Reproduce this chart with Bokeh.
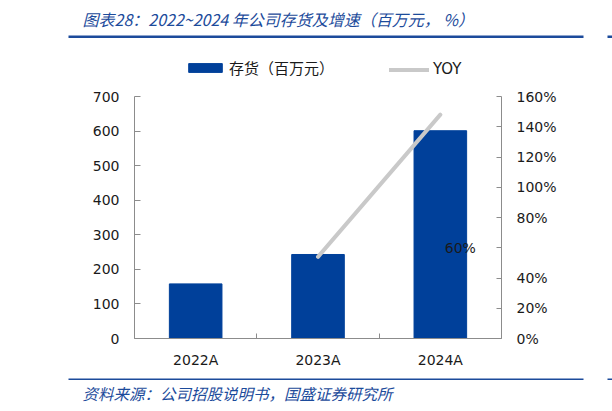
import math

from bokeh.core.properties import value
from bokeh.embed import file_html
from bokeh.layouts import column
from bokeh.models import (ColumnDataSource, FixedTicker, Legend, LegendItem,
                          LinearAxis, Range1d)
from bokeh.plotting import figure
from bokeh.resources import INLINE

# ---- data -------------------------------------------------------------
categories = ["2022A", "2023A", "2024A"]
inventory = [158, 243, 601]            # 存货（百万元）
yoy = [math.nan, 54, 148]              # YOY (%)
left_ticks = [0, 100, 200, 300, 400, 500, 600, 700]
right_ticks = [0, 20, 40, 60, 80, 100, 120, 140, 160]
right_tick_labels = ["0%", "20%", "40%", "60%", "80%", "100%", "120%", "140%", "160%"]

title_text = "图表28：2022~2024 年公司存货及增速（百万元，  %）"
source_text = "资料来源：公司招股说明书，国盛证券研究所"
bar_label = "存货（百万元）"
line_label = "YOY"

BLUE = "#00409a"
RULE = "#1c4b9b"
GREY_LINE = "#c9c9c9"
AXIS = "#8c8c8c"
TXT = "#1a1a1a"
LAT = "DejaVu Sans"
CJK = "Noto Sans CJK SC"

W = 612
HEAD_H, FOOT_H = 50, 40
MAIN_H = 411 - HEAD_H - FOOT_H
# plot frame on the page
FRAME_L, FRAME_R = 134, 501
AXIS_TOP, FRAME_B = 96, 338


def strip(height):
    """A bare figure whose data units are page pixels (y grows downward)."""
    f = figure(width=W, height=height, output_backend="svg", toolbar_location=None,
               x_range=Range1d(0, W), y_range=Range1d(height, 0),
               min_border=0, x_axis_location=None, y_axis_location=None,
               frame_align=False)
    f.outline_line_color = None
    f.xgrid.visible = False
    f.ygrid.visible = False
    f.background_fill_color = "white"
    f.border_fill_color = "white"
    return f


def rules(f, top, bottom):
    f.quad(left=[68, 607], right=[583, W], top=[top, top], bottom=[bottom, bottom],
           color=RULE, line_color=None)


# ---- heading ------------------------------------------------------------
head = strip(HEAD_H)
head.text(x=[82], y=[18], text=[title_text], text_font=value(CJK),
          text_font_size="16px", text_font_style="italic", text_color=RULE,
          text_baseline="middle", text_align="left")
rules(head, 35, 37.5)

# ---- main chart ---------------------------------------------------------
xs = list(range(1, len(categories) + 1))
src = ColumnDataSource(dict(x=xs, inv=inventory, yoy=yoy))

frame_h = FRAME_B - HEAD_H
scale = frame_h / (FRAME_B - AXIS_TOP)
p = figure(width=W, height=MAIN_H, output_backend="svg", toolbar_location=None,
           x_range=Range1d(0.5, len(categories) + 0.5),
           y_range=Range1d(0, left_ticks[-1] * scale),
           min_border_left=FRAME_L, min_border_right=W - FRAME_R,
           min_border_top=0, min_border_bottom=HEAD_H + MAIN_H - FRAME_B,
           frame_align=False)
p.extra_y_ranges = {"yoy": Range1d(0, right_ticks[-1] * scale)}
p.outline_line_color = None
p.xgrid.visible = False
p.ygrid.visible = False
p.background_fill_color = "white"
p.border_fill_color = "white"

bars = p.vbar(x="x", top="inv", width=0.43, source=src, color=BLUE)
line = p.line(x="x", y="yoy", source=src, y_range_name="yoy",
              line_color=GREY_LINE, line_width=4, line_cap="round")

xa = p.xaxis[0]
xa.ticker = FixedTicker(ticks=xs, minor_ticks=[x - 0.5 for x in xs] + [xs[-1] + 0.5])
xa.major_label_overrides = {x: c for x, c in zip(xs, categories)}
xa.major_tick_in = 0
xa.major_tick_out = 0
xa.minor_tick_in = 5
xa.minor_tick_out = 0
xa.minor_tick_line_color = AXIS
xa.axis_line_color = AXIS
xa.major_label_text_font = LAT
xa.major_label_text_font_size = "14px"
xa.major_label_text_color = TXT
xa.major_label_standoff = 13

ya = p.yaxis[0]
ya.ticker = FixedTicker(ticks=left_ticks)
ya.bounds = (left_ticks[0], left_ticks[-1])
ya.major_tick_in = 6
ya.major_tick_out = 0
ya.minor_tick_line_color = None
ya.axis_line_color = AXIS
ya.major_tick_line_color = AXIS
ya.major_label_text_font = LAT
ya.major_label_text_font_size = "14px"
ya.major_label_text_color = TXT
ya.major_label_standoff = 15

yr = LinearAxis(y_range_name="yoy")
yr.ticker = FixedTicker(ticks=right_ticks)
yr.bounds = (right_ticks[0], right_ticks[-1])
overrides = {t: lab for t, lab in zip(right_ticks, right_tick_labels)}
overrides[60] = ""
yr.major_label_overrides = overrides
yr.major_tick_in = 5
yr.major_tick_out = 0
yr.minor_tick_line_color = None
yr.axis_line_color = AXIS
yr.major_tick_line_color = AXIS
yr.major_label_text_font = LAT
yr.major_label_text_font_size = "14px"
yr.major_label_text_color = TXT
yr.major_label_standoff = 15
p.add_layout(yr, "right")

# the 60% tick label sits inside the plot, over the last bar
p.text(x=[xs[-1]], y=[60], text=[right_tick_labels[3]], y_range_name="yoy",
       x_offset=20, text_align="center", text_baseline="middle",
       text_font=value(LAT), text_font_size="14px", text_color=TXT)

leg_y = FRAME_B - 68 - 10
leg_bar = Legend(items=[LegendItem(label=bar_label, renderers=[bars])],
                 location=(184 - FRAME_L, leg_y), orientation="horizontal",
                 glyph_width=42, glyph_height=11, label_standoff=3,
                 padding=0, margin=0, border_line_color=None,
                 background_fill_alpha=0, label_text_font=CJK,
                 label_text_font_size="15px", label_text_color=TXT)
leg_line = Legend(items=[LegendItem(label=line_label, renderers=[line])],
                  location=(389 - FRAME_L, leg_y), orientation="horizontal",
                  glyph_width=40, glyph_height=11, label_standoff=4,
                  padding=0, margin=0, border_line_color=None,
                  background_fill_alpha=0, label_text_font=LAT,
                  label_text_font_size="15px", label_text_color=TXT)
p.add_layout(leg_bar)
p.add_layout(leg_line)

# ---- source line ----------------------------------------------------------
foot = strip(FOOT_H)
rules(foot, 378 - (HEAD_H + MAIN_H), 379.6 - (HEAD_H + MAIN_H))
foot.text(x=[82], y=[392 - (HEAD_H + MAIN_H)], text=[source_text], text_font=value(CJK),
          text_font_size="15.5px", text_font_style="italic", text_color=RULE,
          text_baseline="middle", text_align="left")

page = column(head, p, foot, spacing=0)
open("out.html", "w").write(file_html(page, INLINE))
